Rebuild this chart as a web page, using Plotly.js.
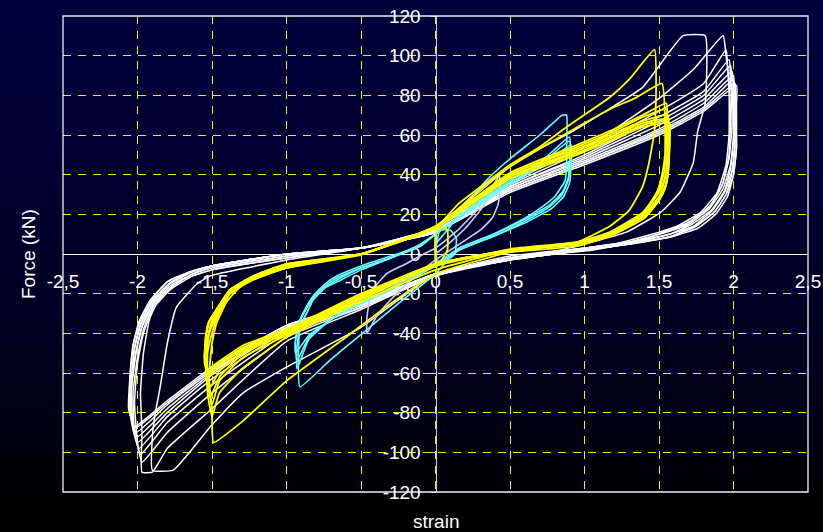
<!DOCTYPE html>
<html><head><meta charset="utf-8">
<script src="https://cdn.plot.ly/plotly-3.0.1.min.js"></script>
<style>
html,body{margin:0;padding:0;width:823px;height:532px;overflow:hidden;
background:linear-gradient(to bottom,#00003c 0%,#00002e 40%,#000018 75%,#000000 95%,#000000 100%);}
#chart{width:823px;height:532px;}
</style></head><body><div id="chart"></div>
<script>
const xTickVals=[-2.5,-2,-1.5,-1,-0.5,0,0.5,1,1.5,2,2.5];
const xTickText=['-2,5','-2','-1,5','-1','-0,5','0','0,5','1','1,5','2','2,5'];
const yTickVals=[-120,-100,-80,-60,-40,-20,0,20,40,60,80,100,120];
const yTickText=['-120','-100','-80','-60','-40','-20','0','20','40','60','80','100','120'];

// white cycles (amplitude ±2)
const W1X=[0,0.3,0.5,0.72,0.9,1.12,1.39,1.66,1.81,1.81,1.76,1.73,1.64,1.51,1.28,0.84,0.5,0,-0.5,-1.0,-1.29,-1.51,-1.76,-1.9,-1.9,-1.88,-1.85,-1.8,-1.74,-1.6,-1.51,-1.0,-0.5,0];
const W1Y=[13,33,44,54,61,71,84,110,110,76,62,46,31,21,11,2,-1,-10,-37,-57,-70,-87,-109,-109,-92,-80,-68,-45,-27,-15,-11,-3,3,13];
const W2X=[0,0.5,1.06,1.28,1.51,1.73,1.93,1.95,1.97,1.97,1.95,1.89,1.78,1.62,1.39,1.06,0.5,0,-0.5,-1.0,-1.5,-1.8,-1.9,-1.97,-1.97,-1.98,-1.96,-1.92,-1.85,-1.7,-1.5,-1.0,-0.5,0];
const W2Y=[13,36,56,67,79,93,110,100,85,60,45,31,21,14,7,2,-2,-11,-28,-44,-78,-98,-110,-110,-90,-70,-50,-33,-22,-13,-8,-2,3,13];
const W3X=[0,0.5,1.0,1.5,1.8,1.95,1.96,1.98,1.97,1.93,1.85,1.7,1.5,1.2,0.8,0.5,0,-0.5,-1.0,-1.5,-1.8,-1.97,-2.0,-2.02,-2.0,-1.96,-1.9,-1.78,-1.63,-1.5,-1.0,-0.5,0];
const W3Y=[12,35,52,72,86,103,95,70,50,36,25,16,11,5,1,-2,-11,-27,-42,-70,-90,-105,-95,-75,-55,-40,-28,-18,-11,-8,-2,3,12];
const W4X=[0,0.5,1.0,1.5,1.8,1.97,1.98,1.99,1.97,1.92,1.83,1.68,1.5,1.2,0.8,0.5,0,-0.5,-1.0,-1.5,-1.8,-1.98,-2.02,-2.03,-2.0,-1.96,-1.9,-1.78,-1.63,-1.5,-1.0,-0.5,0];
const W4Y=[12,34,50,69,82,98,88,65,48,34,23,15,10,4,0,-3,-11,-27,-40,-66,-85,-101,-90,-70,-52,-38,-27,-17,-10,-7,-1,3,12];
const W5X=[0,0.5,1.0,1.5,1.8,1.98,1.99,2.0,1.98,1.93,1.84,1.7,1.55,1.3,1.0,0.5,0,-0.5,-1.0,-1.5,-1.8,-1.99,-2.03,-2.04,-2.01,-1.97,-1.9,-1.78,-1.63,-1.5,-1.0,-0.5,0];
const W5Y=[12,34,49,67,80,95,85,60,45,33,23,15,11,6,3,-2,-10,-26,-39,-63,-82,-98,-88,-68,-50,-37,-26,-16,-10,-7,-1,3,12];
const W6X=[0,0.5,1.0,1.5,1.8,1.99,2.0,2.0,1.98,1.94,1.85,1.72,1.57,1.3,1.0,0.5,0,-0.5,-1.0,-1.5,-1.8,-2.0,-2.04,-2.04,-2.01,-1.97,-1.9,-1.78,-1.63,-1.5,-1.0,-0.5,0];
const W6Y=[11,33,48,65,78,92,82,57,43,32,22,15,10,6,3,-2,-10,-26,-38,-61,-80,-95,-85,-66,-49,-36,-25,-15,-9,-6,0,3,11];
const W7X=[0,0.5,1.0,1.5,1.8,2.0,2.0,2.01,1.99,1.94,1.86,1.73,1.57,1.3,1.0,0.5,0,-0.5,-1.0,-1.5,-1.8,-2.0,-2.04,-2.04,-2.02,-1.98,-1.91,-1.79,-1.64,-1.5,-1.0,-0.5,0];
const W7Y=[11,33,47,63,76,90,80,56,42,31,22,14,10,5,2,-2,-10,-25,-37,-60,-78,-92,-82,-64,-48,-36,-25,-15,-9,-6,0,3,11];
const W8X=[0,0.5,1.0,1.5,1.8,2.0,2.01,2.01,1.99,1.95,1.87,1.74,1.58,1.3,1.0,0.5,0,-0.5,-1.0,-1.5,-1.8,-2.01,-2.05,-2.04,-2.02,-1.98,-1.91,-1.79,-1.64,-1.5,-1.0,-0.5,0];
const W8Y=[11,32,46,62,74,88,78,55,41,30,21,14,9,5,2,-3,-10,-25,-37,-59,-76,-90,-80,-63,-47,-35,-24,-15,-9,-6,0,3,11];
const W9X=[0,0.5,1.0,1.5,1.8,2.01,2.01,2.02,2.0,1.95,1.87,1.75,1.59,1.3,1.0,0.5,0,-0.5,-1.0,-1.5,-1.8,-2.02,-2.05,-2.05,-2.03,-1.99,-1.92,-1.8,-1.65,-1.5,-1.0,-0.5,0];
const W9Y=[11,32,46,61,73,86,76,54,40,30,21,14,9,5,2,-3,-10,-25,-36,-58,-75,-88,-79,-62,-46,-35,-24,-14,-9,-6,0,3,11];
const W10X=[0,0.5,1.0,1.5,1.8,2.02,2.02,2.02,2.0,1.96,1.88,1.76,1.6,1.3,1.0,0.5,0,-0.5,-1.0,-1.5,-1.8,-2.02,-2.06,-2.05,-2.03,-1.99,-1.92,-1.8,-1.65,-1.5,-1.0,-0.5,0];
const W10Y=[11,31,45,60,72,85,75,53,40,29,20,13,9,5,2,-3,-10,-24,-36,-57,-74,-87,-78,-61,-46,-34,-24,-14,-9,-6,0,3,11];

// yellow cycles (amplitude ±1.5)
const Y0X=[0,0,0,0.04,0.08,0.08,0.05,0];
const Y0Y=[0,-7,10,14,12,2,-2,-7];
const Y1X=[0,0.03,0.15,0.34,0.5,0.7,0.88,1.17,1.3,1.47,1.48,1.47,1.43,1.39,1.3,1.17,0.95,0.5,0,-0.3,-0.62,-1.0,-1.29,-1.49,-1.5,-1.52,-1.5,-1.47,-1.4,-1.29,-1.0,-0.5,0];
const Y1Y=[13,15,25,36,45,54,64,79,88,103,80,62,45,34,22,14,6,1,-10,-25,-43,-64,-84,-95,-80,-62,-45,-35,-24,-15,-7,0,13];
const Y2X=[0,0.5,0.72,1.0,1.17,1.35,1.52,1.54,1.54,1.52,1.49,1.4,1.2,0.95,0.5,0,-0.5,-1.0,-1.3,-1.45,-1.5,-1.53,-1.53,-1.5,-1.46,-1.38,-1.22,-1.0,-0.5,0];
const Y2Y=[14,44,54,66,73,79,86,70,50,40,32,21,11,6,2,-8,-24,-42,-58,-70,-82,-70,-50,-40,-31,-20,-12,-7,0,14];
const Y3X=[0,0.5,0.95,1.2,1.39,1.55,1.55,1.54,1.52,1.49,1.39,1.17,0.95,0.5,0,-0.5,-1.0,-1.29,-1.45,-1.5,-1.53,-1.53,-1.51,-1.47,-1.38,-1.22,-1.0,-0.5,0];
const Y3Y=[14,41,55,63,70,76,60,44,37,31,21,11,6,2.5,-6,-23,-41,-52,-64,-76,-64,-45,-38,-32,-20,-13,-7,-0.5,14];
const Y4X=[0,0.5,0.95,1.2,1.39,1.55,1.56,1.55,1.53,1.49,1.39,1.17,0.95,0.5,0,-0.5,-1.0,-1.29,-1.45,-1.51,-1.54,-1.53,-1.51,-1.47,-1.38,-1.22,-1.0,-0.5,0];
const Y4Y=[14,40,54,62,69,73,58,43,36,30,20,10,5,2,-6,-22,-40,-50,-62,-72,-62,-44,-37,-31,-19,-12,-6,0,14];
const Y5X=[0,0.5,0.95,1.2,1.39,1.56,1.56,1.55,1.53,1.5,1.4,1.17,0.95,0.5,0,-0.5,-1.0,-1.29,-1.45,-1.51,-1.54,-1.53,-1.51,-1.47,-1.38,-1.22,-1.0,-0.5,0];
const Y5Y=[13,40,53,61,67,70,56,42,35,29,20,10,5,2,-5,-22,-40,-49,-59,-67,-58,-43,-36,-30,-19,-12,-6,0,13];
const Y6X=[0,0.5,0.95,1.2,1.39,1.56,1.57,1.56,1.54,1.5,1.4,1.17,0.95,0.5,0,-0.5,-1.0,-1.29,-1.45,-1.52,-1.55,-1.54,-1.52,-1.47,-1.38,-1.22,-1.0,-0.5,0];
const Y6Y=[13,39,52,60,66,68,55,41,34,28,19,10,5,2,-5,-21,-39,-48,-56,-62,-55,-42,-35,-29,-19,-12,-6,0,13];
const Y7X=[0,0.5,0.95,1.2,1.39,1.56,1.57,1.56,1.54,1.5,1.4,1.17,0.95,0.5,0,-0.5,-1.0,-1.29,-1.45,-1.52,-1.55,-1.54,-1.52,-1.47,-1.38,-1.22,-1.0,-0.5,0];
const Y7Y=[13,39,51,59,65,67,54,40,33,27,18,9,5,2,-5,-21,-38,-47,-55,-60,-53,-41,-34,-28,-18,-11,-5,0,13];
const Y8X=[0,0.5,0.95,1.2,1.39,1.57,1.57,1.56,1.54,1.5,1.4,1.17,0.95,0.5,0,-0.5,-1.0,-1.29,-1.45,-1.53,-1.55,-1.54,-1.52,-1.47,-1.38,-1.22,-1.0,-0.5,0];
const Y8Y=[13,38,50,58,64,66,53,40,33,27,18,9,4,1,-5,-20,-38,-46,-54,-58,-52,-40,-34,-28,-18,-11,-5,0,13];

// cyan cycles (amplitude ±0.9)
const C0X=[0,0.03,0.1,0.14,0.13,0.1,0.03,0];
const C0Y=[0,12,12,8,0,-2,-5,0];
const C1X=[0,0.1,0.2,0.34,0.5,0.7,0.85,0.88,0.88,0.88,0.87,0.8,0.72,0.6,0.39,0.16,0,-0.25,-0.49,-0.7,-0.91,-0.92,-0.91,-0.86,-0.82,-0.74,-0.66,-0.5,-0.3,-0.1,0];
const C1Y=[5,14,24,37,48,60,70,70,55,45,37,29,24,18,10,3,-10,-25,-40,-53,-67,-50,-37,-29,-23,-17,-14,-8,-2,5,10];
const C2X=[0,0.3,0.5,0.7,0.9,0.9,0.89,0.85,0.77,0.61,0.39,0.16,0,-0.3,-0.5,-0.7,-0.85,-0.93,-0.93,-0.91,-0.86,-0.82,-0.74,-0.66,-0.5,-0.3,-0.1,0];
const C2Y=[10,27,37,46,59,47,38,31,25,18,10,3,-5,-17,-24,-33,-43,-58,-47,-37,-29,-23,-17,-13,-7,-2,5,10];
const C3X=[0,0.3,0.5,0.7,0.9,0.91,0.89,0.85,0.77,0.61,0.39,0.16,0,-0.3,-0.5,-0.7,-0.85,-0.93,-0.94,-0.92,-0.87,-0.82,-0.74,-0.66,-0.5,-0.3,-0.1,0];
const C3Y=[10,26,36,45,57,46,37,30,24,17,9,2,-6,-18,-25,-33,-42,-54,-45,-36,-28,-22,-16,-12,-7,-2,4,10];
const C4X=[0,0.3,0.5,0.7,0.91,0.91,0.9,0.86,0.78,0.61,0.39,0.16,0,-0.3,-0.5,-0.7,-0.85,-0.94,-0.94,-0.92,-0.87,-0.82,-0.74,-0.66,-0.5,-0.3,-0.1,0];
const C4Y=[10,25,35,44,55,45,36,29,23,16,9,2,-6,-18,-25,-33,-41,-50,-43,-35,-27,-21,-15,-11,-6,-1,4,10];

// lavender cycle (amplitude ±0.45)
const LX=[0,0.1,0.2,0.3,0.38,0.43,0.43,0.42,0.38,0.3,0.2,0.08,0,-0.15,-0.3,-0.4,-0.46,-0.46,-0.44,-0.4,-0.33,-0.2,-0.08,0,0.15,0.3,0.43];
const LY=[0,6,13,22,32,40,32,25,18,12,7,1,-3,-12,-23,-32,-40,-32,-22,-16,-10,-5,0,3,12,24,40];

const groups=[
  {c:'#ffffff',w:1.5,loops:[[W1X,W1Y],[W2X,W2Y],[W3X,W3Y],[W4X,W4Y],[W5X,W5Y],[W6X,W6Y],[W7X,W7Y],[W8X,W8Y],[W9X,W9Y],[W10X,W10Y]]},
  {c:'#ccccf5',w:1.6,loops:[[LX,LY]]},
  {c:'#66ffff',w:1.6,loops:[[C0X,C0Y],[C1X,C1Y],[C2X,C2Y],[C3X,C3Y],[C4X,C4Y]]},
  {c:'#ffff00',w:1.8,loops:[[Y0X,Y0Y],[Y1X,Y1Y],[Y2X,Y2Y],[Y3X,Y3Y],[Y4X,Y4Y],[Y5X,Y5Y],[Y6X,Y6Y],[Y7X,Y7Y],[Y8X,Y8Y]]}
];
const traces=[];
groups.forEach(g=>g.loops.forEach(l=>traces.push({type:'scatter',mode:'lines',x:l[0],y:l[1],
  line:{color:g.c,width:g.w,shape:'spline',smoothing:0.4},hoverinfo:'skip'})));

const gridCol='#f0f000';
const layout={
  width:823,height:532,
  margin:{l:63,r:15,t:16,b:40},
  paper_bgcolor:'rgba(0,0,0,0)',plot_bgcolor:'rgba(0,0,0,0)',
  font:{family:'"Liberation Sans", Arial, sans-serif',size:19,color:'#ffffff'},
  showlegend:false,
  xaxis:{range:[-2.5,2.5],tickmode:'array',tickvals:xTickVals,ticktext:xTickText,
    showgrid:true,gridcolor:gridCol,gridwidth:1,griddash:'8px,7px',zeroline:false,
    showline:true,linecolor:'#ffffff',linewidth:1.2,anchor:'free',position:0.5,
    ticks:'',ticklabelstandoff:10,layer:'below traces',fixedrange:true},
  yaxis:{range:[-120,120],tickmode:'array',tickvals:yTickVals,ticktext:yTickText,
    showgrid:true,gridcolor:gridCol,gridwidth:1,griddash:'8px,7px',zeroline:false,
    showline:true,linecolor:'#c8c8dc',linewidth:1,anchor:'free',position:0.5,
    ticks:'outside',ticklen:5,tickcolor:'#c8c8dc',ticklabelstandoff:6,layer:'below traces',fixedrange:true},
  shapes:[{type:'rect',xref:'paper',yref:'paper',x0:0,x1:1,y0:0,y1:1,
    line:{color:'#eeeef5',width:1.3},layer:'above'}],
  annotations:[
    {text:'Force (kN)',xref:'paper',yref:'paper',x:-0.047,y:0.5,textangle:-90,
      xanchor:'center',yanchor:'middle',showarrow:false,font:{size:19,color:'#ffffff'}},
    {text:'strain',xref:'paper',yref:'paper',x:0.5,y:-0.063,
      xanchor:'center',yanchor:'middle',showarrow:false,font:{size:19,color:'#ffffff'}}
  ]
};
Plotly.newPlot('chart',traces,layout,{displayModeBar:false,staticPlot:true});
</script></body></html>
